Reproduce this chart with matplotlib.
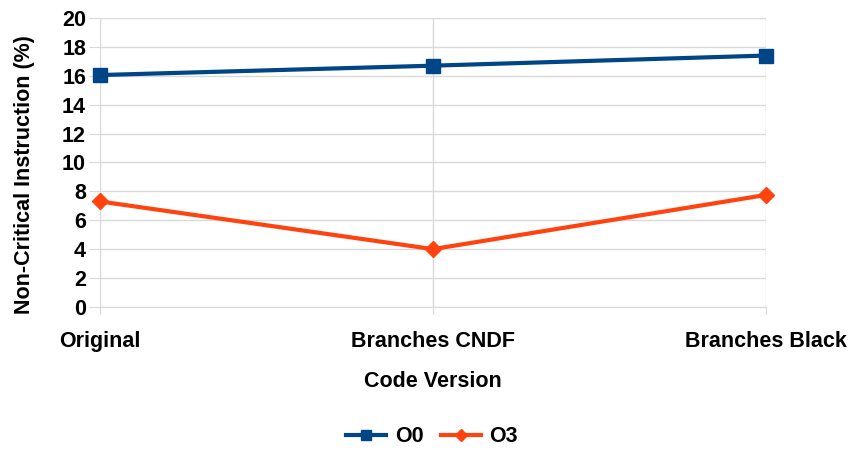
import matplotlib
matplotlib.use("Agg")
import matplotlib.pyplot as plt

plt.rcParams['font.family'] = ['Liberation Sans', 'DejaVu Sans']
plt.rcParams['font.weight'] = 'bold'

versions = ["Original", "Branches CNDF", "Branches Black"]
o0_values = [16.05, 16.7, 17.4]
o3_values = [7.3, 4.0, 7.75]
y_ticks = list(range(0, 21, 2))

FS = 15.5

fig = plt.figure(figsize=(8.51, 4.5), dpi=100)
ax = fig.add_axes([0.1175, 0.318, 0.7825, 0.642])

x = list(range(len(versions)))
ax.plot(x, o0_values, color="#004586", lw=3, marker="s", ms=10, label="O0",
        zorder=3, clip_on=False)
ax.plot(x, o3_values, color="#ff420e", lw=3, marker="D", ms=8, label="O3",
        zorder=3, clip_on=False)

ax.set_xlim(0, 2)
ax.set_ylim(0, 20)
ax.set_xticks(x)
ax.set_xticklabels(versions, fontsize=FS, fontweight="bold")
ax.set_yticks(y_ticks)
ax.set_yticklabels([str(t) for t in y_ticks], fontsize=FS, fontweight="bold")

ax.grid(True, axis="both", color="#d9d9d9", lw=1)
ax.set_axisbelow(True)
for s in ["top", "right", "left"]:
    ax.spines[s].set_visible(False)
ax.spines["bottom"].set_color("#d9d9d9")
ax.tick_params(axis="y", length=8, color="#d9d9d9", pad=2)
ax.tick_params(axis="x", length=5, color="#d9d9d9", pad=12)

ax.set_xlabel("Code Version", fontsize=FS, fontweight="bold", labelpad=14)
ax.set_ylabel("Non-Critical Instruction (%)", fontsize=FS, fontweight="bold")
ax.yaxis.set_label_coords(-0.097, 0.457)

fig.legend(loc="center", bbox_to_anchor=(432 / 851, 1 - 437 / 450), ncol=2,
           frameon=False, fontsize=FS, handlelength=1.85, columnspacing=0.8,
           handletextpad=0.4, markerscale=0.75)

fig.savefig("out.png", dpi=100, facecolor="white")
